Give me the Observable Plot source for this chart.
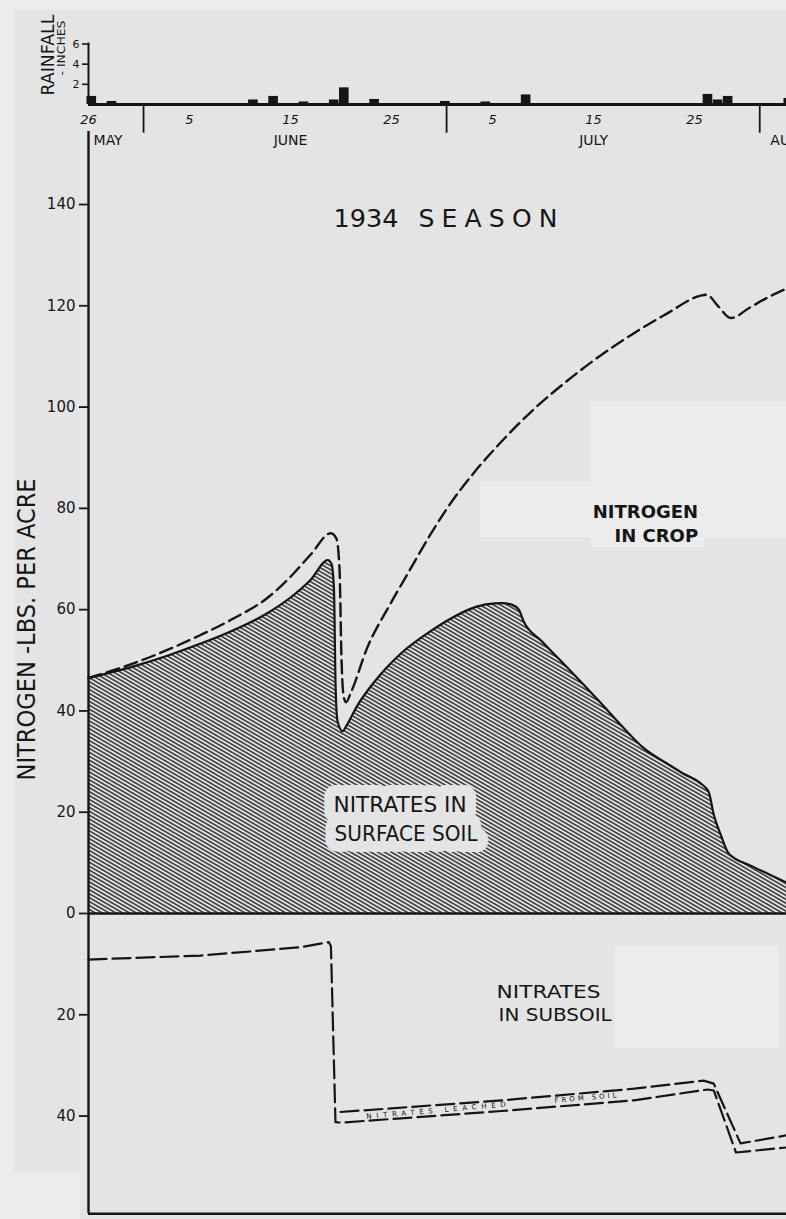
<!DOCTYPE html>
<html>
<head>
<meta charset="utf-8">
<script src="https://cdn.jsdelivr.net/npm/d3@7"></script>
<script src="https://cdn.jsdelivr.net/npm/@observablehq/plot@0.6"></script>
<style>
  html, body { margin: 0; padding: 0; background: #ececec; }
  #wrap { position: relative; width: 786px; height: 1219px; overflow: hidden; background: #ececec; }
  #wrap > div.paper { position: absolute; }
  #wrap > svg { position: absolute; left: 0; top: 0; }
</style>
</head>
<body>
<div id="wrap">
  <div class="paper" style="left:14px;top:10px;right:0;bottom:0;background:#e4e4e4"></div>
  <div class="paper" style="left:0;top:1172px;width:80px;bottom:0;background:#ececec"></div>
  <div class="paper" style="left:591px;top:401px;width:195px;height:137px;background:#ececec"></div>
  <div class="paper" style="left:480px;top:481px;width:111px;height:56px;background:#ececec"></div>
  <div class="paper" style="left:591px;top:538px;width:113px;height:9px;background:#ececec"></div>
  <div class="paper" style="left:615px;top:946px;width:164px;height:102px;background:#ececec"></div>
</div>
<script>
// ---------- data (x = days after 26 May 1934) ----------
// Rainfall, inches per day
const rainDay    = [0, 2, 16, 18, 21, 24, 25, 28, 35, 39, 43, 61, 62, 63, 69];
const rainInches = [0.8, 0.3, 0.45, 0.8, 0.25, 0.45, 1.65, 0.5, 0.3, 0.25, 0.95, 1.0, 0.45, 0.8, 0.6];
const rainTicks  = [2, 4, 6];

// Date axis
const dateTickDay   = [0, 10, 20, 30, 40, 50, 60];
const dateTickLabel = ["26", "5", "15", "25", "5", "15", "25"];
const monthStartDay = [6, 36, 67];           // 1 June, 1 July, 1 August
const monthName     = ["MAY", "JUNE", "JULY", "AUGUST"];
const monthLabelDay = [0, 20, 50, 67];

// Nitrates in surface soil (lbs N per acre)
const surfaceDay = [0, 4.46, 7.8, 11.1, 14.4, 17.7, 20.0, 22.0, 23.7, 24.06, 24.3, 24.46, 24.65, 25.15, 25.6, 26.6, 28.2, 30.9, 33.9, 36.1, 38.0, 39.5, 41.0, 41.9, 42.6, 43.1, 44.8, 46.7, 50.7, 53.0, 55.0, 57.3, 58.9, 60.6, 61.4, 61.9, 62.6, 63.4, 65.5, 67.2, 69.1];
const surfaceN   = [46.5, 48.8, 50.9, 53.3, 56.0, 59.3, 62.4, 65.9, 69.8, 69.0, 64, 45, 38.0, 36.0, 37.3, 41.0, 45.5, 51.3, 55.8, 58.5, 60.3, 61.1, 61.3, 61.0, 60.0, 57.6, 53.9, 50.0, 41.6, 36.6, 32.6, 29.6, 27.6, 25.7, 24.0, 19.5, 15.5, 11.8, 9.5, 7.9, 6.1];

// Nitrogen in crop (dashed)
const cropDay = [0, 4.46, 11.1, 14.4, 17.7, 20.0, 22.0, 24.0, 24.55, 24.85, 25.05, 25.25, 25.5, 25.95, 27.6, 29.9, 31.6, 33.9, 35.5, 38.1, 40.8, 44.1, 47.4, 50.7, 54.0, 57.3, 60.6, 61.2, 62.3, 63.6, 65.5, 67.2, 69.1];
const cropN   = [46.5, 49.4, 55.0, 58.3, 62.3, 66.5, 70.9, 75.1, 74.0, 68, 50, 43, 41.7, 43.5, 52.5, 61.2, 67.1, 75.0, 80.0, 86.9, 93.0, 99.6, 105.2, 110.2, 114.6, 118.5, 122.0, 122.2, 120.0, 117.6, 119.7, 121.6, 123.4];

// Nitrates in subsoil (plotted downward)
const subsoilDay = [0, 11.1, 16, 21.0, 23.8, 24.0, 24.45, 25.0, 40.9, 54.0, 61.3, 61.9, 64.1, 69.1];
const subsoilN   = [9.1, 8.3, 7.5, 6.65, 5.65, 6.5, 41.2, 41.3, 39.0, 36.9, 34.75, 34.95, 47.2, 46.2];

// Nitrates leached from soil (upper line of the double dashed line)
const leachedDay = [24.95, 40.9, 54.0, 60.9, 61.9, 64.55, 69.1];
const leachedN   = [39.2, 36.9, 34.6, 33.0, 33.6, 45.4, 43.8];

const nTicks = [0, 20, 40, 60, 80, 100, 120, 140, -20, -40];

// ---------- build ----------
const W = 786, H = 1219;
const INK = "#151515", PAPER = "#e4e4e4";
const FONT = "'DejaVu Sans', sans-serif";

const rain    = rainDay.map((d, i) => ({d, v: rainInches[i]}));
const surface = surfaceDay.map((d, i) => ({d, v: surfaceN[i]}));
const crop    = cropDay.map((d, i) => ({d, v: cropN[i]}));
const subsoil = subsoilDay.map((d, i) => ({d, v: subsoilN[i]}));
const leached = leachedDay.map((d, i) => ({d, v: leachedN[i]}));
const xDomain = [0, 69.1];

const rainPlot = Plot.plot({
  width: W, height: 150,
  marginLeft: 88, marginRight: 0, marginTop: 43.5, marginBottom: 46,
  x: {domain: xDomain, axis: null},
  y: {domain: [0, 6], axis: null},
  style: {background: "transparent", fontFamily: FONT, color: INK, overflow: "visible"},
  marks: [
    Plot.rectY(rain, {x1: d => d.d - 0.15, x2: d => d.d + 0.8, y1: 0, y2: "v", fill: INK}),
    Plot.ruleY([0], {stroke: INK, strokeWidth: 2.8}),
    Plot.ruleX([0], {y1: 0, y2: 6.1, stroke: INK, strokeWidth: 2}),
    Plot.ruleY(rainTicks, {x1: -0.6, x2: 0, stroke: INK, strokeWidth: 1.6}),
    Plot.text(rainTicks, {x: 0, y: d => d, text: d => String(d), textAnchor: "end", dx: -9, fontSize: 11, fill: INK}),
    Plot.text(dateTickDay, {x: d => d, y: 0, text: (d, i) => dateTickLabel[i], dy: 15, fontSize: 13, fontStyle: "italic", fill: INK}),
    Plot.ruleX(monthStartDay, {x: d => d - 0.55, y1: 0, y2: -2.85, stroke: INK, strokeWidth: 1.8}),
    Plot.text(monthName.filter((m, i) => i === 0 || i === monthName.length - 1),
      {x: (d) => monthLabelDay[monthName.indexOf(d)] + 0.5, y: 0, dy: 36, text: d => d, textAnchor: "start", fontSize: 14, fill: INK}),
    Plot.text(monthName.filter((m, i) => i > 0 && i < monthName.length - 1),
      {x: (d) => monthLabelDay[monthName.indexOf(d)], y: 0, dy: 36, text: d => d, textAnchor: "middle", fontSize: 14, fill: INK}),
    Plot.text(["RAINFALL"], {x: -4.0, y: 4.9, text: d => d, rotate: -90, fontSize: 18, fill: INK}),
    Plot.text(["- INCHES"], {x: -2.7, y: 5.6, text: d => d, rotate: -90, fontSize: 11, fill: INK})
  ]
});

const mainPlot = Plot.plot({
  width: W, height: H,
  marginLeft: 88, marginRight: 0, marginTop: 178.7, marginBottom: 5.7,
  x: {domain: xDomain, axis: null},
  y: {domain: [-59.3, 145], axis: null},
  style: {background: "transparent", fontFamily: FONT, color: INK, overflow: "visible"},
  marks: [
    Plot.areaY(surface, {x: "d", y: "v", fill: "url(#hatch)", curve: "monotone-x"}),
    Plot.text(["NITRATES IN", "SURFACE SOIL"], {
      x: (d, i) => [24.26, 24.36][i], y: (d, i) => [21.3, 15.6][i], text: d => d,
      textAnchor: "start", fontSize: 21, fill: INK, stroke: PAPER, strokeWidth: 22, strokeLinejoin: "round"
    }),
    Plot.line(surface, {x: "d", y: "v", stroke: INK, strokeWidth: 2.2, curve: "monotone-x"}),
    Plot.line(crop, {x: "d", y: "v", stroke: INK, strokeWidth: 2.4, strokeDasharray: "13,6", curve: "monotone-x"}),
    Plot.line(subsoil, {x: "d", y: d => -d.v, stroke: INK, strokeWidth: 2.2, strokeDasharray: "18,6"}),
    Plot.line(leached, {x: "d", y: d => -d.v, stroke: INK, strokeWidth: 2.2, strokeDasharray: "18,6"}),
    Plot.ruleY([0], {stroke: INK, strokeWidth: 2.6}),
    Plot.ruleY([-59.3], {stroke: INK, strokeWidth: 2.6}),
    Plot.ruleX([0], {y1: -59.3, y2: 154.4, stroke: INK, strokeWidth: 2.4}),
    Plot.ruleY(nTicks, {x1: -0.9, x2: 0, stroke: INK, strokeWidth: 1.8}),
    Plot.text(nTicks, {x: 0, y: d => d, text: d => String(Math.abs(d)), textAnchor: "end", dx: -13, fontSize: 15, fill: INK}),
    Plot.text(["NITROGEN -LBS. PER ACRE"], {x: -6.04, y: 56.1, text: d => d, rotate: -90, fontSize: 25, fill: INK}),
    Plot.text(["1934", "SEASON"], {x: (d, i) => [27.47, 39.55][i], y: 137.2, text: d => d, fontSize: 25, fill: INK}),
    Plot.text(["NITROGEN", "IN CROP"], {x: 60.35, y: (d, i) => [79.2, 74.5][i], text: d => d, textAnchor: "end", fontSize: 18, fontWeight: "bold", fill: INK}),
    Plot.text(["NITRATES", "IN SUBSOIL"], {x: (d, i) => [40.4, 40.6][i], y: (d, i) => [-15.6, -20.1][i], text: d => d, textAnchor: "start", fontSize: 17, fill: INK}),
    Plot.text(["NITRATES LEACHED", "FROM SOIL"], {x: (d, i) => [34.4, 49.2][i], y: (d, i) => [-38.9, -36.4][i], text: d => d, rotate: -5, fontSize: 7, fill: INK})
  ]
});

// hatch pattern for the surface-soil area
const defs = d3.select(mainPlot).insert("defs", ":first-child");
const pat = defs.append("pattern").attr("id", "hatch").attr("patternUnits", "userSpaceOnUse")
  .attr("width", 12).attr("height", 3.4).attr("patternTransform", "rotate(30)");
pat.append("line").attr("x1", 0).attr("x2", 12).attr("y1", 1.7).attr("y2", 1.7)
  .attr("stroke", INK).attr("stroke-width", 1.3);

// fit hand-lettered text widths
const fit = {
  "NITROGEN -LBS. PER ACRE": [302, "spacingAndGlyphs"],
  "1934": [65, "spacingAndGlyphs"],
  "SEASON": [139, "spacing"],
  "NITRATES IN": [133, "spacingAndGlyphs"],
  "SURFACE SOIL": [143, "spacingAndGlyphs"],
  "NITRATES": [104, "spacingAndGlyphs"],
  "IN SUBSOIL": [113, "spacingAndGlyphs"],
  "NITRATES LEACHED": [140, "spacing"],
  "FROM SOIL": [62, "spacing"],
  "RAINFALL": [81, "spacingAndGlyphs"],
  "- INCHES": [55, "spacingAndGlyphs"]
};
for (const svg of [rainPlot, mainPlot]) {
  d3.select(svg).selectAll("text").each(function () {
    const f = fit[this.textContent];
    if (f) d3.select(this).attr("textLength", f[0]).attr("lengthAdjust", f[1]);
  });
}

const wrap = document.getElementById("wrap");
wrap.appendChild(rainPlot);
wrap.appendChild(mainPlot);
</script>
</body>
</html>
